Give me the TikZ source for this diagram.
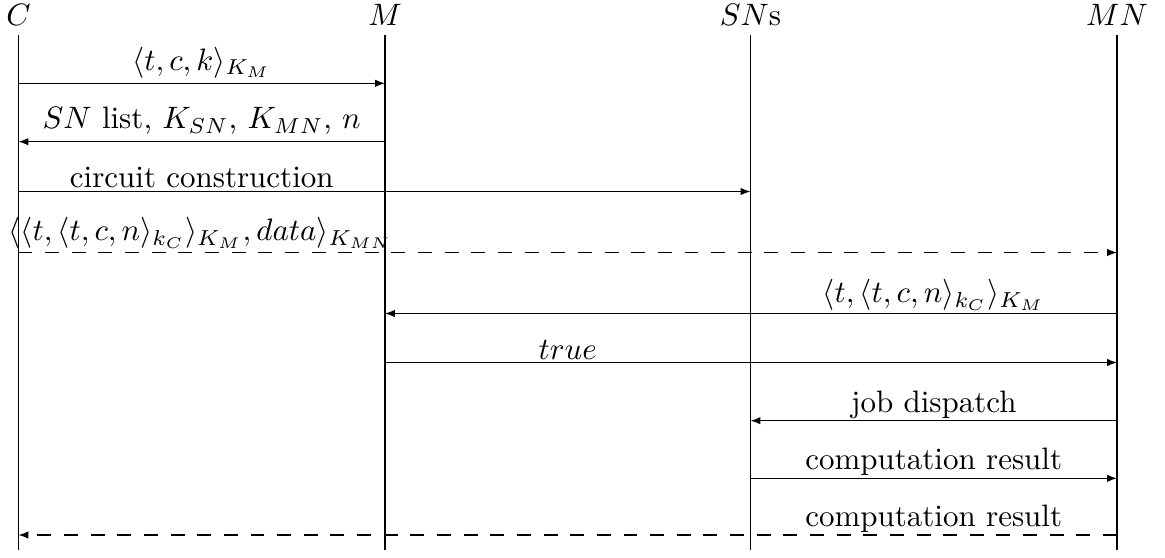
\documentclass[tikz,border=0pt]{standalone}
\usetikzlibrary{arrows.meta}
\begin{document}
\begin{tikzpicture}[x=0.3228pt,y=-0.3228pt,
  life/.style={line width=0.4pt},
  msg/.style={-{Latex[length=3.2pt,width=2.4pt]}, line width=0.4pt},
  dmsg/.style={msg, dash pattern=on 4.5pt off 4.1pt},
  lbl/.style={anchor=base, inner sep=0pt},
  head/.style={anchor=base, inner sep=0pt}]
\useasboundingbox (0,0) rectangle (1165,557);
% heads
\node[head] (hC) at (18.5,25) {$C$};
\node[head] (hM) at (385,25) {$M$};
\node[head] (hS) at (750.5,25) {$SN$s};
\node[head] (hN) at (1117,25) {$MN$};
% lifelines
\coordinate (Ct) at (18.5,35);   \coordinate (Cb) at (18.5,550);
\coordinate (Mt) at (385,35);    \coordinate (Mb) at (385,550);
\coordinate (St) at (750.5,35);  \coordinate (Sb) at (750.5,550);
\coordinate (Nt) at (1117,35);   \coordinate (Nb) at (1117,550);
\draw[life] (Ct) -- (Cb);
\draw[life] (Mt) -- (Mb);
\draw[life] (St) -- (Sb);
\draw[life] (Nt) -- (Nb);
% message end points
\coordinate (a1) at (18.5,83.3);   \coordinate (b1) at (385,83.3);
\coordinate (a2) at (385,141.7);   \coordinate (b2) at (18.5,141.7);
\coordinate (a3) at (18.5,191.5);  \coordinate (b3) at (750.5,191.5);
\coordinate (a4) at (18.5,252.5);  \coordinate (b4) at (1117,252.5);
\coordinate (a5) at (1117,313.5);  \coordinate (b5) at (385,313.5);
\coordinate (a6) at (385,362.5);   \coordinate (b6) at (1117,362.5);
\coordinate (a7) at (1117,420.7);  \coordinate (b7) at (750.5,420.7);
\coordinate (a8) at (750.5,478.3); \coordinate (b8) at (1117,478.3);
\coordinate (a9) at (1117,535);    \coordinate (b9) at (18.5,535);
% messages
\draw[msg]  (a1) -- (b1);
\draw[msg]  (a2) -- (b2);
\draw[msg]  (a3) -- (b3);
\draw[dmsg] (a4) -- (b4);
\draw[msg]  (a5) -- (b5);
\draw[msg]  (a6) -- (b6);
\draw[msg]  (a7) -- (b7);
\draw[msg]  (a8) -- (b8);
\draw[dmsg] (a9) -- (b9);
% labels
\node[lbl] (l1) at (201.75,70) {$\langle t, c, k\rangle_{K_M}$};
\node[lbl] (l2) at (201.75,128.5) {$SN$ list, $K_{SN}$, $K_{MN}$, $n$};
\node[lbl] (l3) at (201.75,187.5) {circuit construction};
\node[lbl] (l4) at (200.5,240.5) {$\langle\langle t, \langle t, c, n\rangle_{k_C}\rangle_{K_M}, data\rangle_{K_{MN}}$};
\node[lbl] (l5) at (933.75,302.5) {$\langle t, \langle t, c, n\rangle_{k_C}\rangle_{K_M}$};
\node[lbl] (l6) at (567.75,359.3) {$true$};
\node[lbl] (l7) at (933.75,412) {job dispatch};
\node[lbl] (l8) at (933.75,469.3) {computation result};
\node[lbl] (l9) at (933.75,526.7) {computation result};
\end{tikzpicture}
\end{document}
